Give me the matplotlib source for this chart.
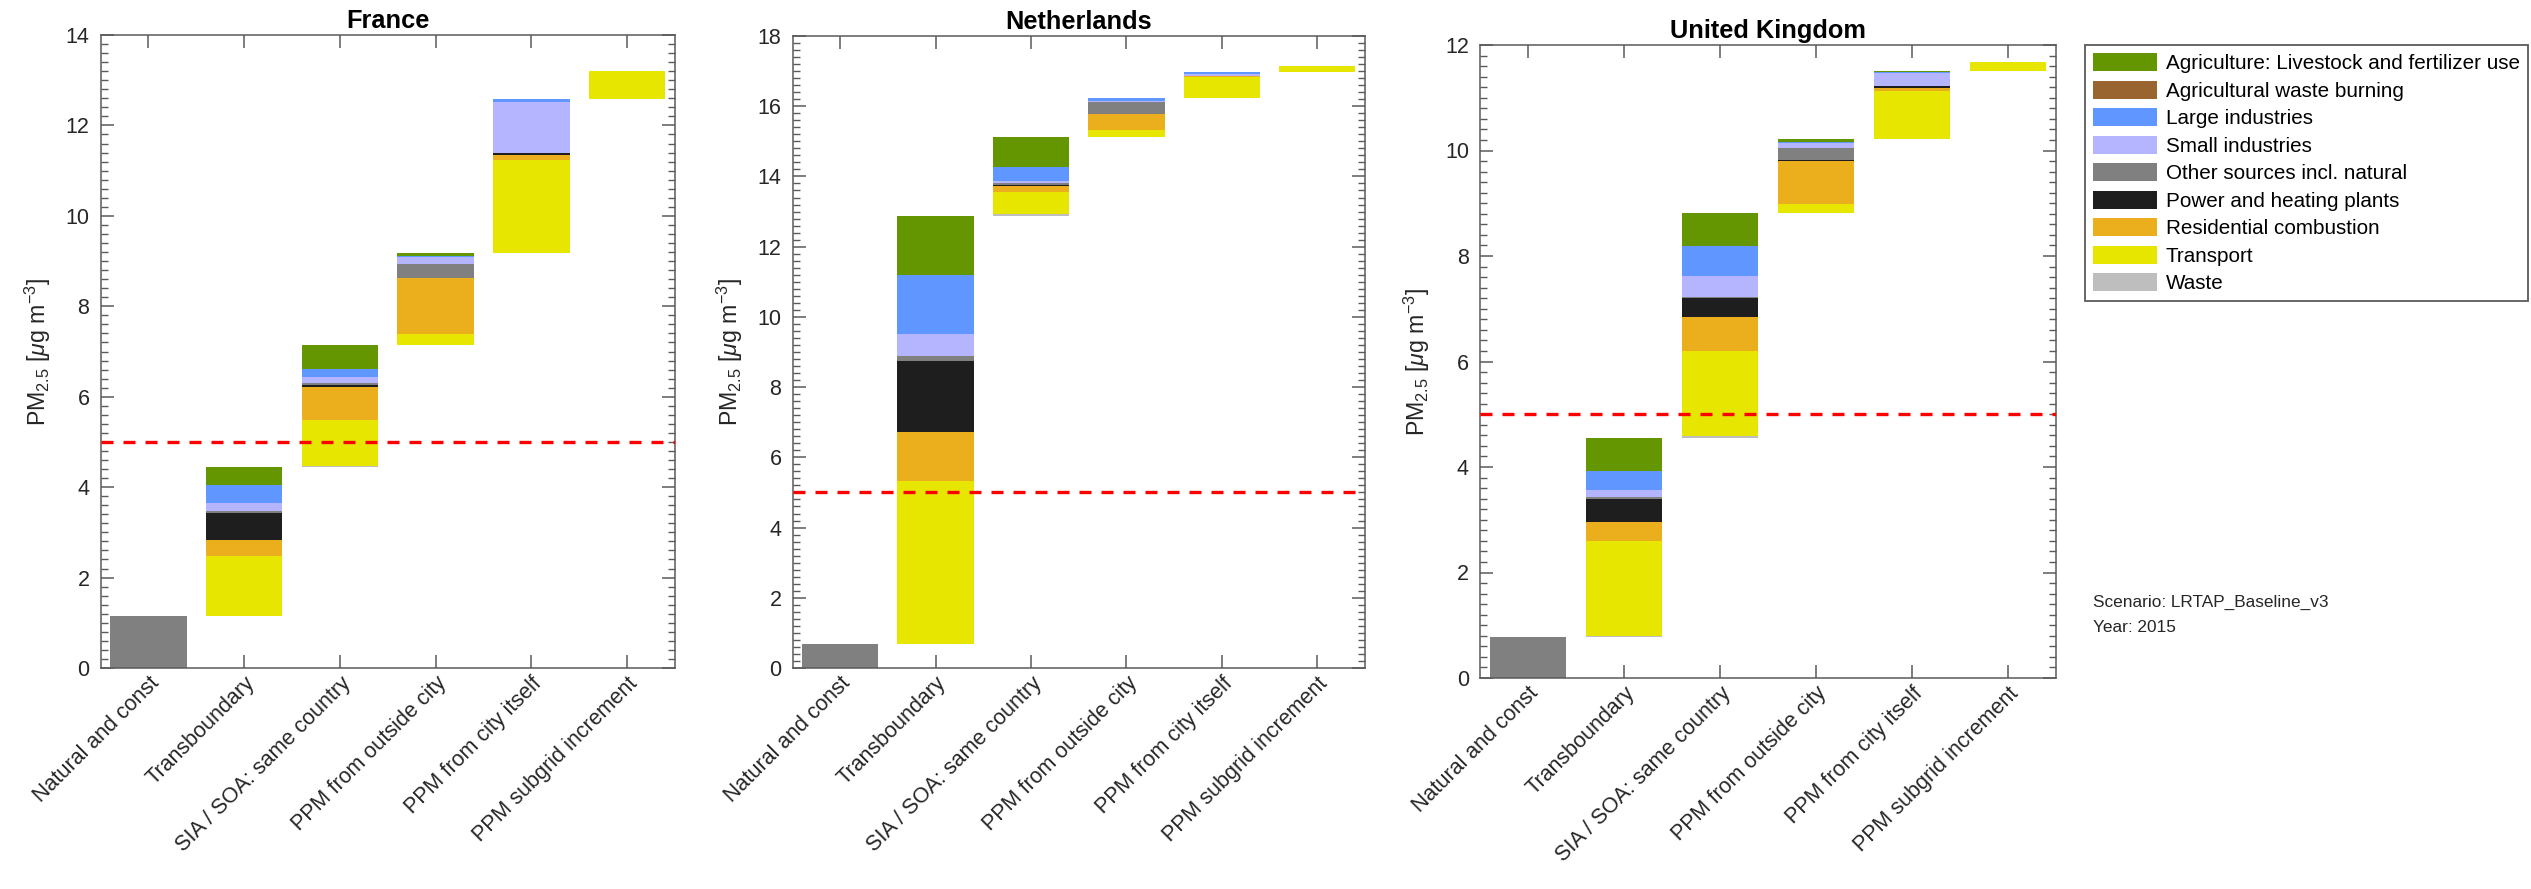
import matplotlib
matplotlib.use("Agg")
import matplotlib.pyplot as plt
import matplotlib.transforms as mtransforms
import numpy as np
from matplotlib.ticker import MultipleLocator
from matplotlib.patches import Patch

plt.rcParams['font.family'] = ['Liberation Sans', 'DejaVu Sans']
plt.rcParams['mathtext.fontset'] = 'custom'
plt.rcParams['mathtext.rm'] = 'Liberation Sans'
plt.rcParams['mathtext.it'] = 'Liberation Sans:italic'

# ---------------- data ----------------
CATEGORIES = ["Natural and const", "Transboundary", "SIA / SOA: same country",
              "PPM from outside city", "PPM from city itself", "PPM subgrid increment"]

# stacking order bottom -> top
SECTORS = ["Waste", "Transport", "Residential combustion", "Power and heating plants",
           "Other sources incl. natural", "Small industries", "Large industries",
           "Agricultural waste burning", "Agriculture: Livestock and fertilizer use"]
SECTOR_COLORS = ["#bebebe", "#e6e600", "#ebaf1e", "#1e1e1e", "#808080",
                 "#b4b4ff", "#6096ff", "#9a6430", "#639600"]
NATURAL_COLOR = "#808080"

# France
FR_NATURAL = 1.15
FR_TRANSBOUNDARY = [0.01, 1.32, 0.36, 0.59, 0.05, 0.17, 0.39, 0.01, 0.40]
FR_SIA_SOA       = [0.02, 1.02, 0.72, 0.06, 0.04, 0.13, 0.18, 0.00, 0.52]
FR_PPM_OUTSIDE   = [0.00, 0.24, 1.24, 0.01, 0.30, 0.17, 0.02, 0.00, 0.05]
FR_PPM_CITY      = [0.00, 2.07, 0.11, 0.03, 0.01, 1.13, 0.07, 0.00, 0.00]
FR_PPM_SUBGRID   = [0.00, 0.62, 0.00, 0.00, 0.00, 0.00, 0.00, 0.00, 0.00]

# Netherlands
NL_NATURAL = 0.69
NL_TRANSBOUNDARY = [0.00, 4.63, 1.41, 2.02, 0.14, 0.63, 1.68, 0.00, 1.68]
NL_SIA_SOA       = [0.06, 0.62, 0.18, 0.01, 0.05, 0.06, 0.40, 0.00, 0.86]
NL_PPM_OUTSIDE   = [0.00, 0.21, 0.44, 0.02, 0.32, 0.05, 0.06, 0.00, 0.02]
NL_PPM_CITY      = [0.00, 0.59, 0.02, 0.01, 0.00, 0.05, 0.07, 0.00, 0.00]
NL_PPM_SUBGRID   = [0.00, 0.16, 0.00, 0.00, 0.00, 0.00, 0.00, 0.00, 0.00]

# United Kingdom
UK_NATURAL = 0.78
UK_TRANSBOUNDARY = [0.01, 1.81, 0.35, 0.44, 0.05, 0.13, 0.35, 0.00, 0.63]
UK_SIA_SOA       = [0.04, 1.61, 0.65, 0.35, 0.02, 0.41, 0.56, 0.00, 0.62]
UK_PPM_OUTSIDE   = [0.00, 0.18, 0.81, 0.02, 0.22, 0.10, 0.03, 0.00, 0.04]
UK_PPM_CITY      = [0.00, 0.92, 0.06, 0.03, 0.01, 0.23, 0.03, 0.00, 0.01]
UK_PPM_SUBGRID   = [0.00, 0.18, 0.00, 0.00, 0.00, 0.00, 0.00, 0.00, 0.00]

COUNTRIES = ["France", "Netherlands", "United Kingdom"]
YMAX = [14, 18, 12]
LIMIT_VALUE = 5
SCENARIO_TEXT = "Scenario: LRTAP_Baseline_v3"
YEAR_TEXT = "Year: 2015"

country_data = {
    "France": (FR_NATURAL, [FR_TRANSBOUNDARY, FR_SIA_SOA, FR_PPM_OUTSIDE, FR_PPM_CITY, FR_PPM_SUBGRID]),
    "Netherlands": (NL_NATURAL, [NL_TRANSBOUNDARY, NL_SIA_SOA, NL_PPM_OUTSIDE, NL_PPM_CITY, NL_PPM_SUBGRID]),
    "United Kingdom": (UK_NATURAL, [UK_TRANSBOUNDARY, UK_SIA_SOA, UK_PPM_OUTSIDE, UK_PPM_CITY, UK_PPM_SUBGRID]),
}

# ---------------- layout ----------------
W, H = 2531, 889
DPI = 100
fig = plt.figure(figsize=(W / DPI, H / DPI), dpi=DPI)

# axes boxes in pixels: left, right, top, bottom
boxes = [(100.5, 675, 35, 668), (792.5, 1365, 36, 668), (1480, 2056, 45, 678)]

spine_col = "#5a5a5a"
text_col = "#262626"
FS_TICK = 15.5
FS_LABEL = 16.7
label_offset = mtransforms.ScaledTranslation(15 / DPI, -14 / DPI, fig.dpi_scale_trans)

for (l, r, t, b), country, ymax in zip(boxes, COUNTRIES, YMAX):
    ax = fig.add_axes([l / W, 1 - b / H, (r - l) / W, (b - t) / H])
    natural, contribs = country_data[country]
    x = np.arange(1, len(CATEGORIES) + 1)
    ax.bar(x[0], natural, width=0.8, color=NATURAL_COLOR, edgecolor='none', zorder=2)
    base = natural
    for i, comp in enumerate(contribs):
        bottom = base
        for val, col in zip(comp, SECTOR_COLORS):
            if val > 0:
                ax.bar(x[i + 1], val, bottom=bottom, width=0.8, color=col,
                       edgecolor='none', zorder=2)
            bottom += val
        base = bottom
    ax.axhline(LIMIT_VALUE, color='#ff0000', lw=2.4, linestyle=(0, (3.6, 3.0)), zorder=3)
    ax.set_xlim(0.5, 6.5)
    ax.set_ylim(0, ymax)
    ax.set_xticks(x)
    ax.set_xticklabels(CATEGORIES, rotation=45, ha='right', rotation_mode='anchor',
                       fontsize=FS_TICK, color=text_col)
    for lab in ax.get_xticklabels():
        lab.set_transform(lab.get_transform() + label_offset)
    ax.yaxis.set_major_locator(MultipleLocator(2))
    ax.yaxis.set_minor_locator(MultipleLocator(0.2))
    ax.tick_params(axis='both', which='major', direction='in', length=9.4, width=1.1,
                   color=spine_col, top=True, right=True, labelsize=FS_TICK,
                   labelcolor=text_col)
    ax.tick_params(axis='y', which='major', pad=8)
    ax.tick_params(axis='y', which='minor', direction='in', length=5, width=1.0,
                   color=spine_col, right=True, left=True)
    ax.tick_params(axis='x', which='minor', bottom=False, top=False)
    for s in ax.spines.values():
        s.set_color(spine_col)
        s.set_linewidth(1.1)
    ax.set_title(country, fontsize=18.3, fontweight='bold', pad=5)
    ax.set_ylabel(r'PM$_{2.5}$ [$\mu$g m$^{-3}$]', fontsize=FS_LABEL, color=text_col,
                  labelpad=9)

# legend (legend order = reverse of stacking order)
handles = [Patch(facecolor=c, edgecolor='none', label=s)
           for s, c in zip(SECTORS[::-1], SECTOR_COLORS[::-1])]
leg = fig.legend(handles=handles, loc='upper left',
                 bbox_to_anchor=(2085 / W, 1 - 45 / H), bbox_transform=fig.transFigure,
                 borderaxespad=0, fontsize=14.9, handlelength=3.1, handleheight=0.95,
                 handletextpad=0.4, labelspacing=0.36, borderpad=0.4,
                 fancybox=False, framealpha=1, edgecolor=spine_col)
leg.get_frame().set_linewidth(1.3)

fig.text(2093 / W, 1 - 602 / H, SCENARIO_TEXT, fontsize=12.4, va='center', ha='left',
         color=text_col)
fig.text(2093 / W, 1 - 628 / H, YEAR_TEXT, fontsize=12.4, va='center', ha='left',
         color=text_col)

fig.savefig("out.png", dpi=DPI)
